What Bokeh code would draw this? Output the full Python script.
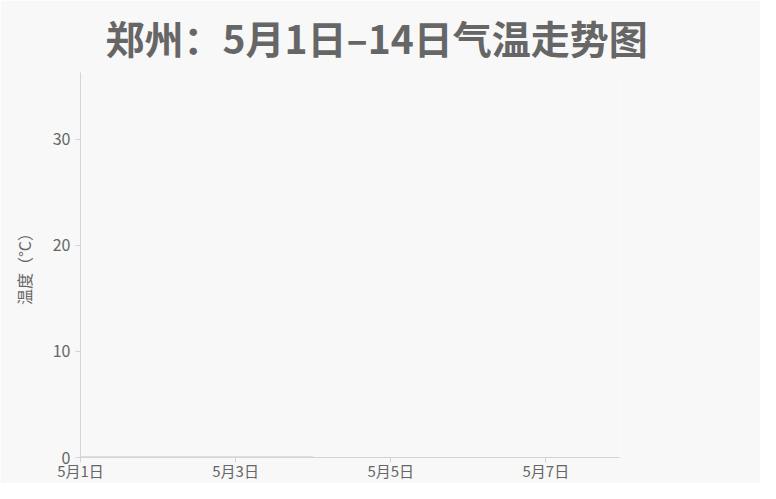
from bokeh.plotting import figure
from bokeh.models import Range1d, FixedTicker, Title
from bokeh.embed import file_html
from bokeh.resources import INLINE

# data (chart captured with series still at zero)
days = [1, 2, 3, 4]
temps = [0, 0, 0, 0]
tick_days = [1, 3, 5, 7]
tick_labels = ["5月1日", "5月3日", "5月5日", "5月7日"]
y_ticks = [0, 10, 20, 30]
title_text = "郑州：5月1日–14日气温走势图"

FONT = "Noto Sans CJK SC"
BG = "#f8f8f8"

p = figure(width=760, height=483, output_backend="svg", toolbar_location=None,
           x_range=Range1d(1, 7.95), y_range=Range1d(0, 36.3),
           background_fill_color=BG, border_fill_color=BG,
           min_border_left=80, min_border_right=141, min_border_top=72, min_border_bottom=25)
p.outline_line_color = None
p.grid.visible = False

p.title = Title(text=title_text, align="left", offset=25, vertical_align="top",
                text_font=FONT, text_font_size="39px", text_font_style="bold",
                text_color="#666666", standoff=11)

for ax in (p.xaxis[0], p.yaxis[0]):
    ax.axis_line_color = "#d4d4d4"
    ax.major_tick_line_color = "#d4d4d4"
    ax.minor_tick_line_color = None
    ax.major_tick_out = 5
    ax.major_tick_in = 0
    ax.major_label_text_font = FONT
    ax.major_label_text_font_size = "16px"
    ax.major_label_text_color = "#666666"

p.xaxis.ticker = FixedTicker(ticks=tick_days)
p.xaxis.major_label_overrides = {d: l for d, l in zip(tick_days, tick_labels)}
p.xaxis.major_label_text_font_size = "15px"
p.xaxis.major_label_standoff = -3
p.yaxis.ticker = FixedTicker(ticks=y_ticks)
p.yaxis.major_label_standoff = 5
p.yaxis.axis_label = "温度（°C）"
p.yaxis.axis_label_text_font = FONT
p.yaxis.axis_label_text_font_size = "16px"
p.yaxis.axis_label_text_font_style = "normal"
p.yaxis.axis_label_text_color = "#666666"
p.yaxis.axis_label_standoff = 14

p.line(days, temps, line_color="#c6c6c6", line_width=2)

open("out.html", "w").write(file_html(p, INLINE))
